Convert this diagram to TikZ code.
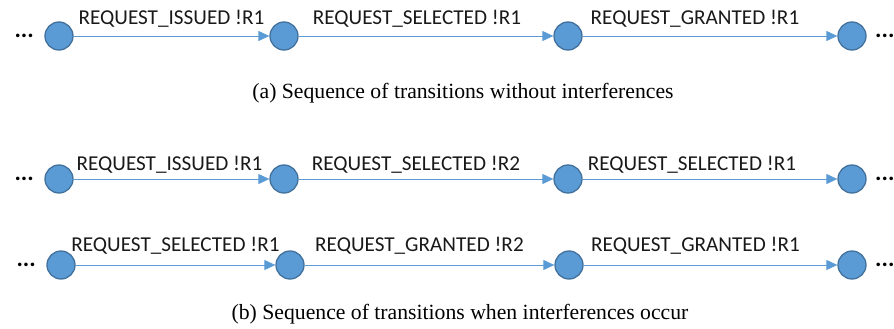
\documentclass[tikz,border=0pt]{standalone}
\usepackage{fontspec}
\setmainfont{Liberation Serif}
\newfontfamily\calibri{Carlito}
\usepackage{tikz}
\usetikzlibrary{arrows.meta}
\usetikzlibrary{positioning}
\definecolor{stateblue}{HTML}{5B9BD5}
\definecolor{stateedge}{HTML}{41719C}

\begin{document}
\begin{tikzpicture} [x=1pt, y=1pt,
                state/.style = {circle, fill=stateblue, draw=stateedge, line width=1.3pt, minimum size=28pt, inner sep=0pt},
                trans/.style = {draw=stateblue, line width=0.9pt, -{Triangle[length=11pt,width=10pt]}},
                lbl/.style = {font=\calibri\fontsize{21.2}{23}\selectfont, text=black!90, anchor=base, yshift=#1},
                lbl/.default = 11pt,
                dots/.style = {font=\calibri\bfseries\fontsize{24}{26}\selectfont},
                caption/.style = {font=\fontsize{21.7}{24}\selectfont}
            ]
            \useasboundingbox (0,0) rectangle (894,-329);
            % (a) without interferences
            \node[state] (a1) at (59,-36) {};
            \node[state] (a2) at (284,-36) {};
            \node[state] (a3) at (568,-36) {};
            \node[state] (a4) at (852,-36) {};
            \node[dots, left=7pt of a1] (da) {...};
            \node[dots, right=5pt of a4] (ea) {...};
            \draw [trans] (a1) -- node[lbl] {REQUEST\_ISSUED !R1} (a2);
            \draw [trans] (a2) -- node[lbl, xshift=-9pt] {REQUEST\_SELECTED !R1} (a3);
            \draw [trans] (a3) -- node[lbl, xshift=-15pt] {REQUEST\_GRANTED !R1} (a4);
            \node[caption] (capa) at (463,-93) {(a) Sequence of transitions without interferences};
            % (b) with interferences
            \node[state] (b1) at (59,-179) {};
            \node[state] (b2) at (284,-179) {};
            \node[state] (b3) at (568,-179) {};
            \node[state] (b4) at (852,-179) {};
            \node[dots, left=7pt of b1] (db) {...};
            \node[dots, right=5pt of b4] (eb) {...};
            \draw [trans] (b1) -- node[lbl=9pt, xshift=-2pt] {REQUEST\_ISSUED !R1} (b2);
            \draw [trans] (b2) -- node[lbl=9pt, xshift=-10pt] {REQUEST\_SELECTED !R2} (b3);
            \draw [trans] (b3) -- node[lbl=9pt, xshift=-18pt] {REQUEST\_SELECTED !R1} (b4);
            \node[state] (c1) at (61,-265) {};
            \node[state] (c2) at (290,-265) {};
            \node[state] (c3) at (569,-265) {};
            \node[state] (c4) at (852,-265) {};
            \node[dots, left=7pt of c1] (dc) {...};
            \node[dots, right=5pt of c4] (ec) {...};
            \draw [trans] (c1) -- node[lbl=14pt] {REQUEST\_SELECTED !R1} (c2);
            \draw [trans] (c2) -- node[lbl=14pt, xshift=-10pt] {REQUEST\_GRANTED !R2} (c3);
            \draw [trans] (c3) -- node[lbl=14pt, xshift=-15pt] {REQUEST\_GRANTED !R1} (c4);
            \node[caption] (capb) at (460,-314) {(b) Sequence of transitions when interferences occur};
        \end{tikzpicture}
\end{document}
